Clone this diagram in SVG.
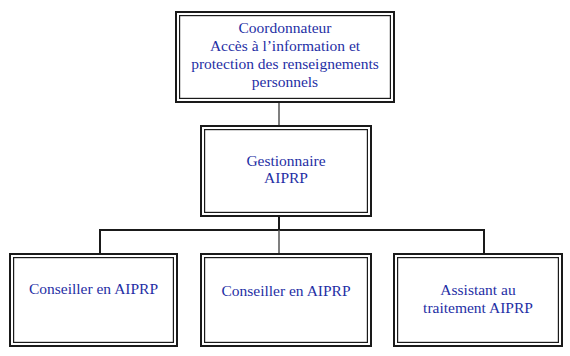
<svg xmlns="http://www.w3.org/2000/svg" width="570" height="356" viewBox="0 0 570 356" font-family="Liberation Serif, serif">
<style>
.o{fill:#fff;stroke:#1a1a1a;stroke-width:2}
.i{fill:none;stroke:#1a1a1a;stroke-width:1.2}
.t{font-size:15.5px;fill:#1f2fa5;text-anchor:middle}
.c{fill:none;stroke:#1a1a1a;stroke-width:2}
.g{stroke:#555;stroke-width:1.5}
</style>
<rect width="570" height="356" fill="#fff"/>
<g id="connectors">
<line class="g" x1="279" y1="103" x2="279" y2="125"/>
<polyline class="c" points="279,217 279,230"/>
<polyline class="c" points="100,253 100,230 484,230 484,253"/>
<line class="g" x1="279" y1="230" x2="279" y2="253"/>
</g>
<g id="coordonnateur">
<rect class="o" x="176" y="12" width="218" height="90"/>
<rect class="i" x="179.6" y="15.6" width="210.8" height="82.8"/>
<text class="t" x="285" y="33" font-family="Liberation Serif, serif">Coordonnateur</text>
<text class="t" x="285" y="51" font-family="Liberation Serif, serif">Accès à l’information et</text>
<text class="t" x="285" y="69" font-family="Liberation Serif, serif">protection des renseignements</text>
<text class="t" x="285" y="87" font-family="Liberation Serif, serif">personnels</text>
</g>
<g id="gestionnaire">
<rect class="o" x="201" y="126" width="170" height="90"/>
<rect class="i" x="204.6" y="129.6" width="162.8" height="82.8"/>
<text class="t" x="286" y="166" font-family="Liberation Serif, serif">Gestionnaire</text>
<text class="t" x="286" y="183" font-family="Liberation Serif, serif">AIPRP</text>
</g>
<g id="conseiller1">
<rect class="o" x="10" y="254" width="167" height="92"/>
<rect class="i" x="13.6" y="257.6" width="159.8" height="84.8"/>
<text class="t" x="93.5" y="294" font-family="Liberation Serif, serif">Conseiller en AIPRP</text>
</g>
<g id="conseiller2">
<rect class="o" x="201" y="254" width="170" height="92"/>
<rect class="i" x="204.6" y="257.6" width="162.8" height="84.8"/>
<text class="t" x="286" y="296" font-family="Liberation Serif, serif">Conseiller en AIPRP</text>
</g>
<g id="assistant">
<rect class="o" x="394" y="254" width="168" height="92"/>
<rect class="i" x="397.6" y="257.6" width="160.8" height="84.8"/>
<text class="t" x="478" y="295" font-family="Liberation Serif, serif">Assistant au</text>
<text class="t" x="478" y="312.5" font-family="Liberation Serif, serif">traitement AIPRP</text>
</g>
</svg>
